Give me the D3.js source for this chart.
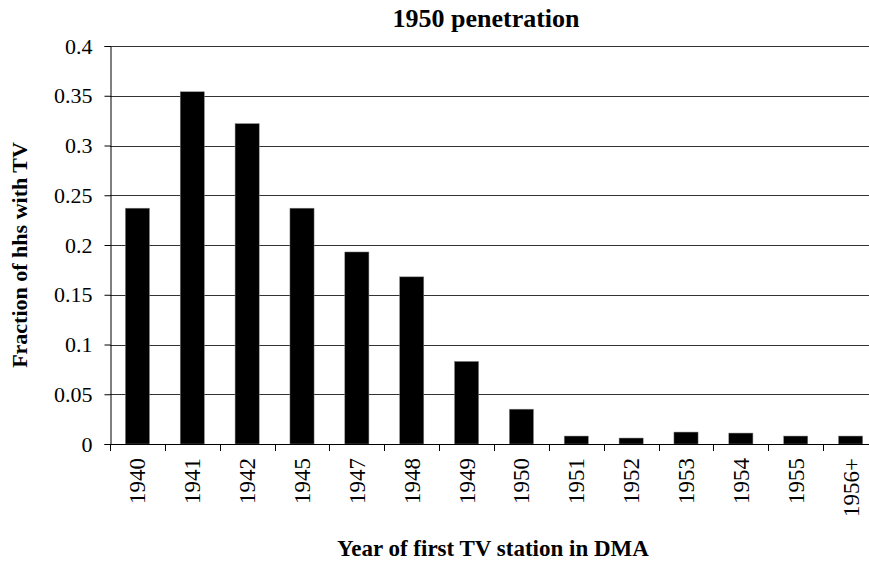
<!DOCTYPE html>
<html>
<head>
<meta charset="utf-8">
<script src="https://cdn.jsdelivr.net/npm/d3@7"></script>
<style>
    body { margin: 0; background: #fff; }
    svg { display: block; }
    svg text { font-family: "Liberation Serif", "Times New Roman", Times, serif; }
</style>
</head>
<body>
<div id="chart"></div>
<script>
const years = ["1940", "1941", "1942", "1945", "1947", "1948", "1949", "1950",
    "1951", "1952", "1953", "1954", "1955", "1956+"];
const penetration = [0.237, 0.354, 0.322, 0.237, 0.193, 0.168, 0.083, 0.035,
    0.008, 0.006, 0.012, 0.011, 0.008, 0.008];
const yTicks = [0, 0.05, 0.1, 0.15, 0.2, 0.25, 0.3, 0.35, 0.4];

const width = 869, height = 563;
const margin = { top: 46, right: -9, bottom: 119, left: 110 };

const svg = d3.select("#chart").append("svg")
    .attr("width", width)
    .attr("height", height);

const x = d3.scaleBand()
    .domain(years)
    .range([margin.left, width - margin.right])
    .paddingInner(0.56)
    .paddingOuter(0.28);

const y = d3.scaleLinear()
    .domain([0, 0.4])
    .range([height - margin.bottom, margin.top]);

// gridlines
svg.append("g")
    .selectAll("line")
    .data(yTicks.slice(1))
    .join("line")
    .attr("x1", margin.left)
    .attr("x2", width - margin.right)
    .attr("y1", d => Math.round(y(d)) + 0.5)
    .attr("y2", d => Math.round(y(d)) + 0.5)
    .attr("stroke", "#333")
    .attr("stroke-width", 1);

// bars
svg.append("g")
    .selectAll("rect")
    .data(penetration)
    .join("rect")
    .attr("x", (d, i) => x(years[i]))
    .attr("y", d => y(d))
    .attr("width", x.bandwidth())
    .attr("height", d => y(0) - y(d))
    .attr("fill", "#000")
    .attr("stroke", "#888")
    .attr("stroke-width", 0.5);

// y axis
const yAxis = svg.append("g")
    .attr("transform", `translate(${margin.left + 0.5},0)`)
    .call(d3.axisLeft(y).tickValues(yTicks).tickFormat(d => String(+d.toFixed(2))).tickSize(6).tickPadding(12));
yAxis.attr("font-family", null);
yAxis.select(".domain").attr("stroke", "#000");
yAxis.selectAll(".tick line").attr("stroke", "#000");
yAxis.selectAll(".tick text")
    .attr("font-size", 22)
    .attr("fill", "#000");

// x axis: ticks at band boundaries
const step = x.step();
const bounds = d3.range(years.length + 1).map(i => margin.left + i * step);
const xAxis = svg.append("g");
xAxis.append("line")
    .attr("x1", margin.left)
    .attr("x2", width - margin.right)
    .attr("y1", y(0) + 0.5)
    .attr("y2", y(0) + 0.5)
    .attr("stroke", "#000");
xAxis.selectAll(".xtick")
    .data(bounds)
    .join("line")
    .attr("class", "xtick")
    .attr("x1", d => Math.round(d) + 0.5)
    .attr("x2", d => Math.round(d) + 0.5)
    .attr("y1", y(0))
    .attr("y2", y(0) + 7)
    .attr("stroke", "#000");
xAxis.selectAll("text")
    .data(years)
    .join("text")
    .attr("transform", d => `translate(${x(d) + x.bandwidth() / 2 + 8},${y(0) + 14}) rotate(-90)`)
    .attr("text-anchor", "end")
    .attr("font-size", 23)
    .attr("fill", "#000")
    .text(d => d);

// titles
svg.append("text")
    .attr("x", 486)
    .attr("y", 27)
    .attr("text-anchor", "middle")
    .attr("font-size", 26)
    .attr("font-weight", "bold")
    .text("1950 penetration");

svg.append("text")
    .attr("x", 493)
    .attr("y", 556)
    .attr("text-anchor", "middle")
    .attr("font-size", 23)
    .attr("font-weight", "bold")
    .text("Year of first TV station in DMA");

svg.append("text")
    .attr("transform", "translate(27,255) rotate(-90)")
    .attr("text-anchor", "middle")
    .attr("font-size", 22)
    .attr("font-weight", "bold")
    .text("Fraction of hhs with TV");
</script>
</body>
</html>
